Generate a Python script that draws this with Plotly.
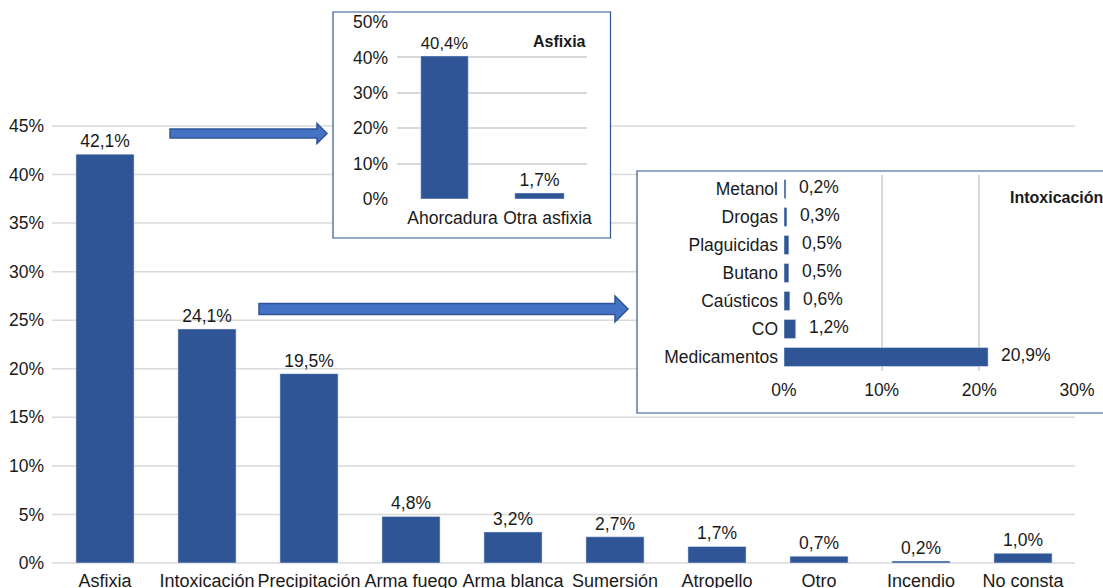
import plotly.graph_objects as go

W, H = 1103, 588

# ---------------- data ----------------
main_cats = ["Asfixia", "Intoxicación", "Precipitación", "Arma fuego", "Arma blanca",
             "Sumersión", "Atropello", "Otro", "Incendio", "No consta"]
main_vals = [42.1, 24.1, 19.5, 4.8, 3.2, 2.7, 1.7, 0.7, 0.2, 1.0]
main_ticks = [0, 5, 10, 15, 20, 25, 30, 35, 40, 45]

asf_cats = ["Ahorcadura", "Otra asfixia"]
asf_vals = [40.4, 1.7]
asf_ticks = [0, 10, 20, 30, 40, 50]

int_cats = ["Metanol", "Drogas", "Plaguicidas", "Butano", "Caústicos", "CO", "Medicamentos"]
int_vals = [0.2, 0.3, 0.5, 0.5, 0.6, 1.2, 20.9]
int_ticks = [0, 10, 20, 30]

# ---------------- style ----------------
BAR = "#2F5597"
GRID = "#D9D9D9"
TXT = "#1a1a1a"
FONT = "Liberation Sans, Arial, sans-serif"
FS = 17.5


def px(x):
    return x / W


def py(y):
    return 1 - y / H


def pct(ticks):
    return [f"{t}%" for t in ticks]


fig = go.Figure()

# main bars
fig.add_trace(go.Bar(
    x=main_cats, y=main_vals, marker_color=BAR, width=0.57,
    text=main_vals, texttemplate="%{y:.1f}%", textposition="outside",
    textfont=dict(size=FS, color=TXT, family=FONT), cliponaxis=False,
    xaxis="x", yaxis="y", showlegend=False, hoverinfo="skip"))

# inset asfixia
fig.add_trace(go.Bar(
    x=asf_cats, y=asf_vals, marker_color=BAR, width=[0.5, 0.52],
    text=asf_vals, texttemplate="%{y:.1f}%", textposition="outside",
    textfont=dict(size=FS, color=TXT, family=FONT), cliponaxis=False,
    xaxis="x2", yaxis="y2", showlegend=False, hoverinfo="skip"))

# inset intoxicacion
fig.add_trace(go.Bar(
    y=int_cats, x=int_vals, orientation="h", marker_color=BAR, width=0.68,
    xaxis="x3", yaxis="y3", showlegend=False, hoverinfo="skip"))

annotations = []
for c, v in zip(int_cats, int_vals):
    annotations.append(dict(x=v, y=c, xref="x3", yref="y3", text=f"{v:.1f}%".replace(".", ","),
                            showarrow=False, xanchor="left", xshift=11, yshift=2,
                            font=dict(size=FS, color=TXT, family=FONT)))

annotations.append(dict(x=px(588), y=py(41), xref="paper", yref="paper", text="<b>Asfixia</b>",
                        showarrow=False, xanchor="right", yanchor="middle",
                        font=dict(size=16, color=TXT, family=FONT)))
annotations.append(dict(x=px(1008), y=py(197), xref="paper", yref="paper", text="<b>Intoxicación</b>",
                        showarrow=False, xanchor="left", yanchor="middle",
                        font=dict(size=16, color=TXT, family=FONT)))

shapes = []
# main gridlines (drawn as lower-layer shapes so that inset boxes can cover them)
for t in main_ticks:
    shapes.append(dict(type="line", xref="paper", yref="y", x0=px(52), x1=px(1075), y0=t, y1=t,
                       layer="below", line=dict(color=GRID, width=1.5)))

# inset boxes
shapes.append(dict(type="rect", xref="paper", yref="paper", x0=px(333), x1=px(610.5), y0=py(12), y1=py(238),
                   layer="below", fillcolor="white", line=dict(color=BAR, width=1.2)))
shapes.append(dict(type="rect", xref="paper", yref="paper", x0=px(637), x1=px(1115), y0=py(171), y1=py(413),
                   layer="below", fillcolor="white", line=dict(color=BAR, width=1.2)))


def arrow(x0, x1, xb, yc, sh, hh):
    pts = [(x0, yc - sh), (xb, yc - sh), (xb, yc - hh), (x1, yc), (xb, yc + hh), (xb, yc + sh), (x0, yc + sh)]
    d = "M " + " L ".join(f"{px(a):.5f},{py(b):.5f}" for a, b in pts) + " Z"
    return dict(type="path", xref="paper", yref="paper", path=d, layer="above",
                fillcolor="#4472C4", line=dict(color="#2F5597", width=1.5))


shapes.append(arrow(170, 327, 317, 133.5, 4.5, 10))
shapes.append(arrow(259, 628, 615, 309, 5.5, 13))

# main y axis domain slightly larger so edge gridlines are not clipped
ppu = (563 - 126) / 45.0
pad = 3
ylo = -pad / ppu
yhi = 45 + pad / ppu

tf = dict(size=FS, color=TXT, family=FONT)

fig.update_layout(
    width=W, height=H, margin=dict(l=0, r=0, t=0, b=0, pad=0),
    paper_bgcolor="white", plot_bgcolor="white",
    separators=",.", font=dict(family=FONT, size=FS, color=TXT),
    xaxis=dict(domain=[px(54), px(1074)], range=[-0.5, 9.5], anchor="y", tickangle=0, automargin=False,
               showgrid=False, showline=False, ticks="", tickfont=dict(size=18, color=TXT, family=FONT),
               ticklabelstandoff=2),
    yaxis=dict(domain=[py(563 + pad), py(126 - pad)], range=[ylo, yhi], anchor="x", automargin=False,
               tickvals=main_ticks, ticktext=pct(main_ticks), showgrid=False, zeroline=False, showline=False,
               ticks="", tickfont=tf, ticklabelstandoff=9),
    xaxis2=dict(domain=[px(397), px(587)], range=[-0.5, 1.5], anchor="y2", tickangle=0, automargin=False,
                showgrid=False, showline=False, ticks="", tickfont=tf, ticklabelstandoff=6,
                ticklabelshift=8),
    yaxis2=dict(domain=[py(199), py(22)], range=[0, 50], anchor="x2", automargin=False,
                tickvals=asf_ticks, ticktext=pct(asf_ticks),
                showgrid=True, gridcolor=GRID, gridwidth=1.5, zeroline=False, showline=False, ticks="",
                tickfont=tf, ticklabelstandoff=8),
    xaxis3=dict(domain=[px(784), px(1077)], range=[0, 30], anchor="y3", automargin=False,
                tickvals=int_ticks, ticktext=pct(int_ticks),
                showgrid=True, gridcolor=GRID, gridwidth=1.5, zeroline=False, showline=False, ticks="",
                tickfont=tf, ticklabelstandoff=6),
    yaxis3=dict(domain=[py(371), py(175)], range=[6.5, -0.5], anchor="x3", automargin=False,
                showgrid=False, showline=False, ticks="", tickfont=tf, ticklabelstandoff=5),
    shapes=shapes, annotations=annotations,
)

fig.write_html("out.html", config={"displayModeBar": False},
               post_script="document.body.style.margin='0';document.body.style.overflow='hidden';")
